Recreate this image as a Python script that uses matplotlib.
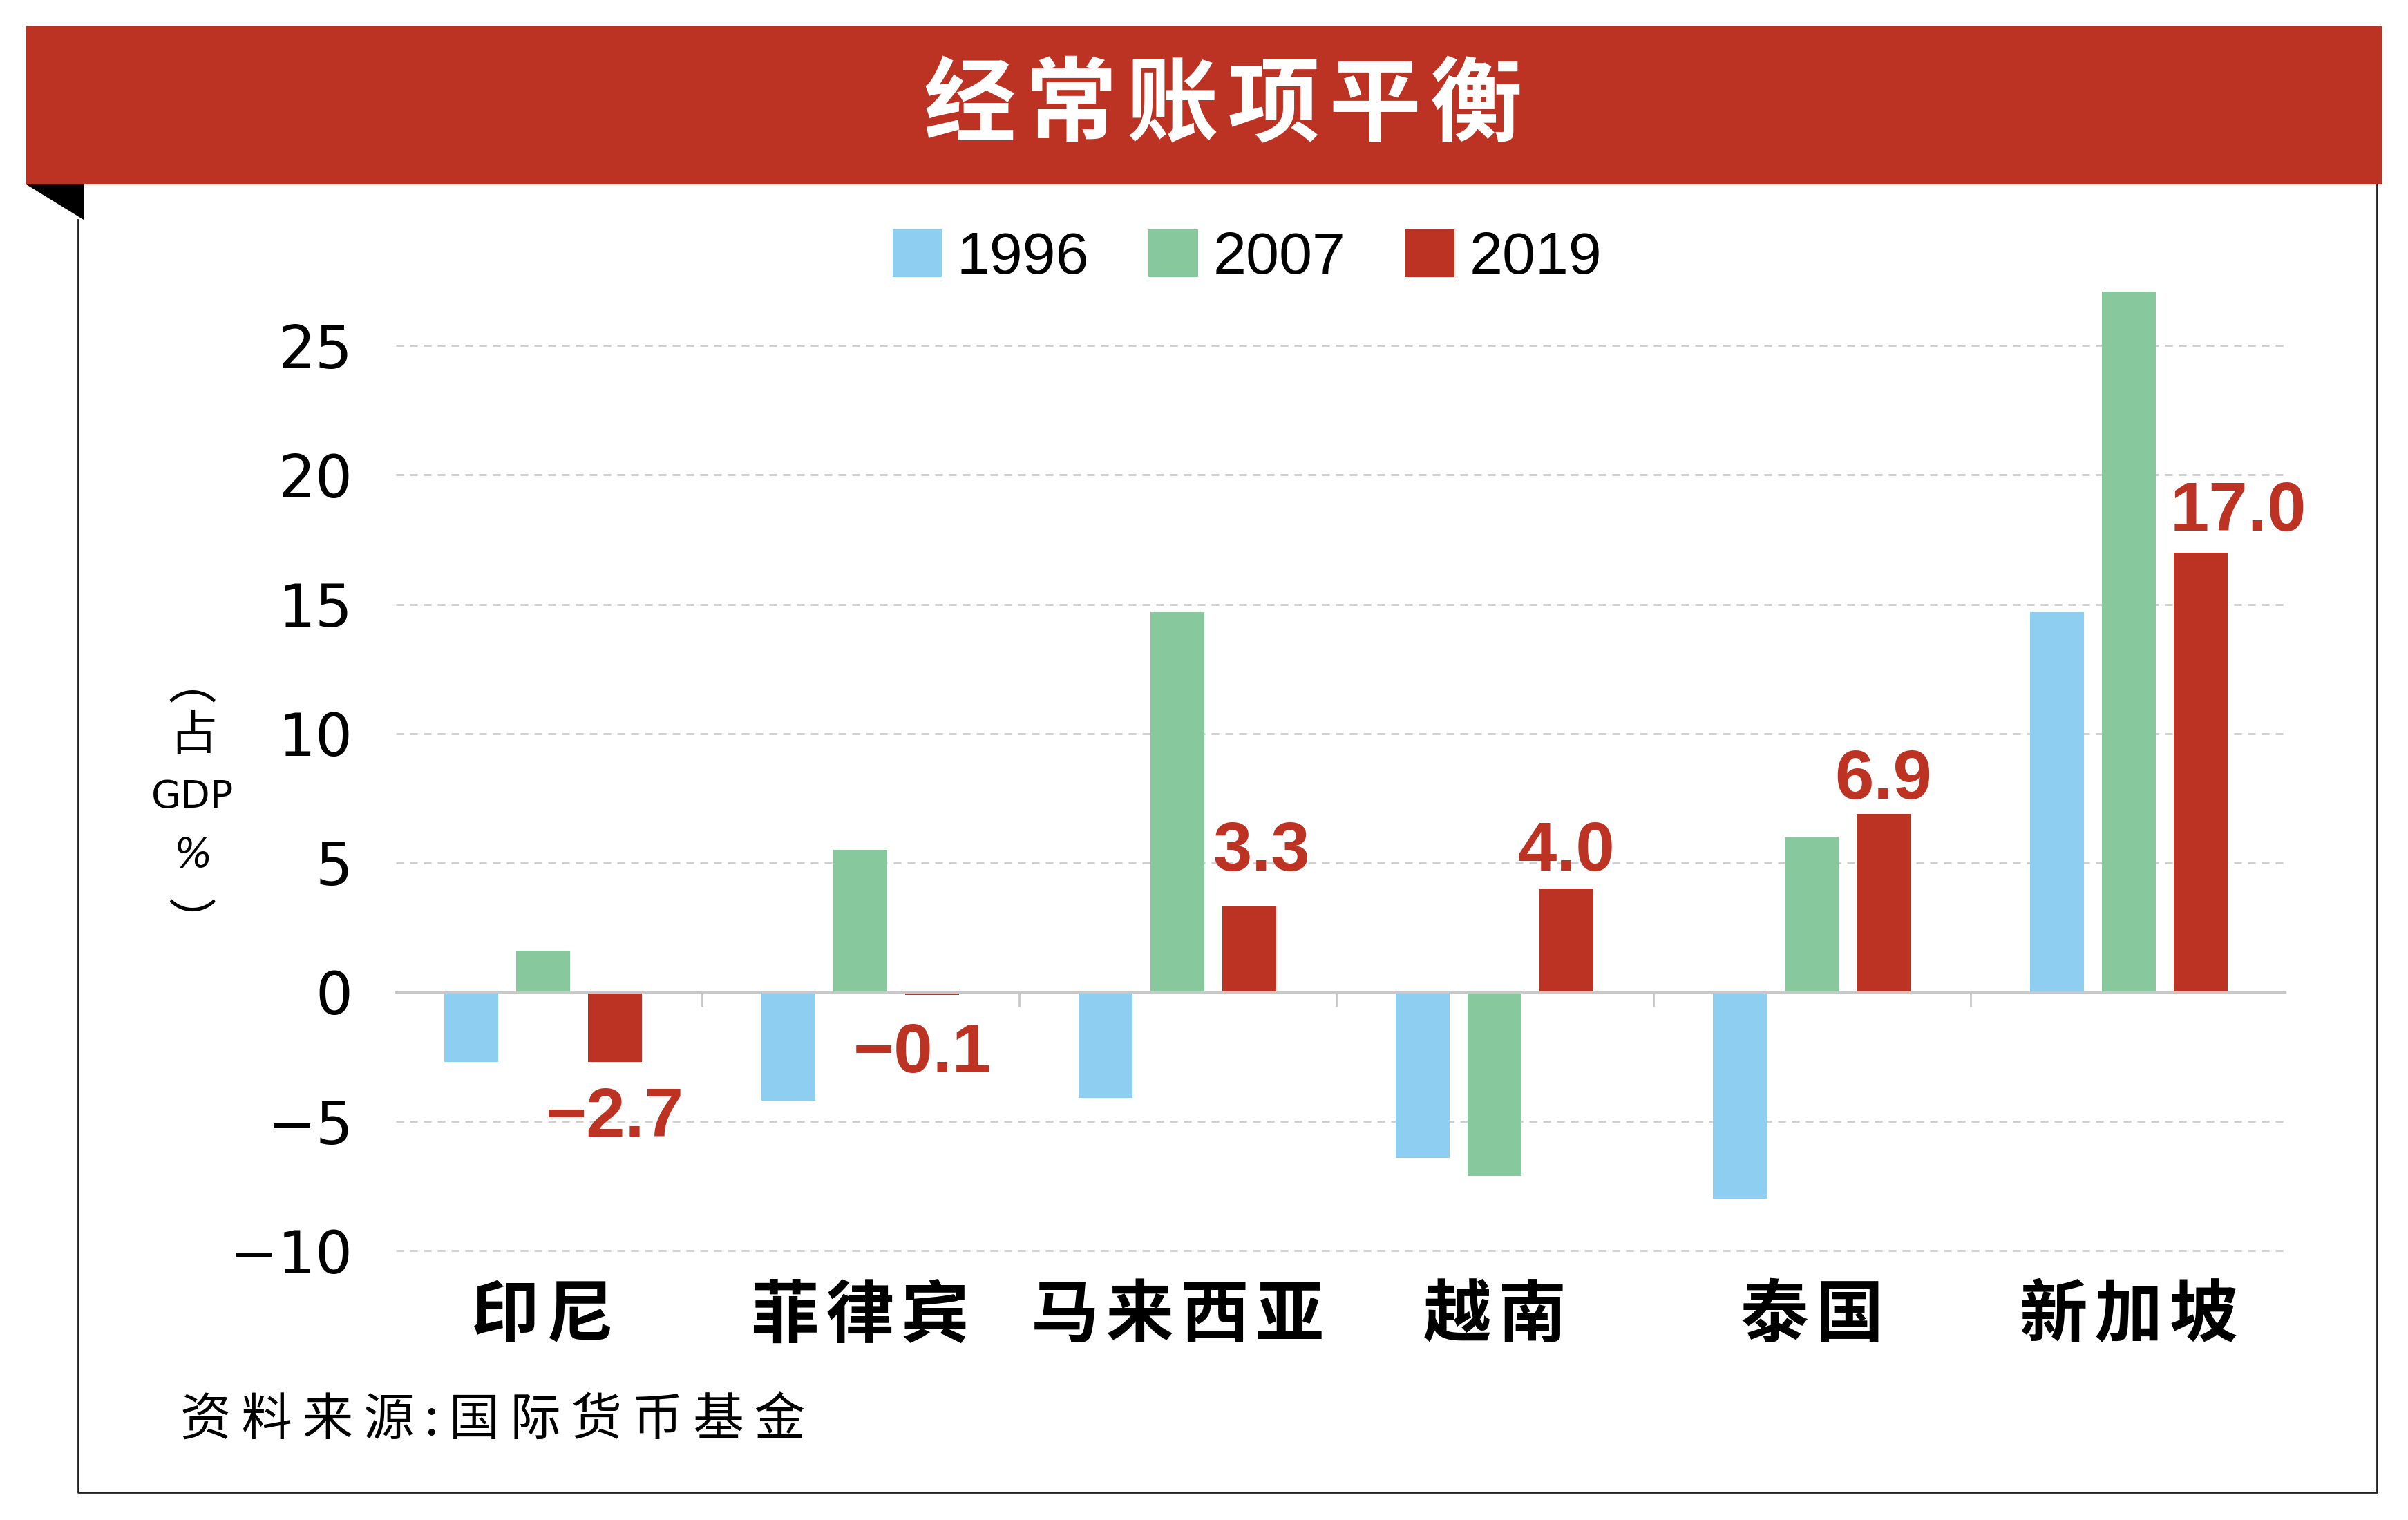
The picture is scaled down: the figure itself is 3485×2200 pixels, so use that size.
import matplotlib
matplotlib.use("Agg")
import matplotlib.pyplot as plt
from matplotlib import font_manager
from matplotlib.patches import Rectangle, Polygon
from matplotlib.lines import Line2D
import numpy as np

# current account balance, % of GDP
countries = ["印尼", "菲律宾", "马来西亚", "越南", "泰国", "新加坡"]
years = ["1996", "2007", "2019"]
ca_1996 = [-2.7, -4.2, -4.1, -6.4, -8.0, 14.7]
ca_2007 = [1.6, 5.5, 14.7, -7.1, 6.0, 27.1]
ca_2019 = [-2.7, -0.1, 3.3, 4.0, 6.9, 17.0]
y_ticks = [-10, -5, 0, 5, 10, 15, 20, 25]

title = "经常账项平衡"
source = "资料来源:国际货币基金"

colors = ["#8ECEF0", "#87C99C", "#BC3324"]
RED = "#BC3324"
CJK = ["Noto Sans CJK SC", "DejaVu Sans"]

names = {f.name for f in font_manager.fontManager.ttflist}
narrow = "Liberation Sans Narrow" if "Liberation Sans Narrow" in names else "DejaVu Sans"

W, H = 3485, 2200
fig = plt.figure(figsize=(W / 100, H / 100), dpi=100)


def fx(px):
    return px / W


def fy(py):
    return 1 - py / H


# red header banner + black fold + thin frame
fig.add_artist(Rectangle((fx(38), fy(267)), fx(3447) - fx(38), fy(38) - fy(267),
                         transform=fig.transFigure, facecolor=RED, edgecolor="none", zorder=0))
fig.add_artist(Polygon([[fx(38), fy(267)], [fx(121), fy(267)], [fx(121), fy(318)]],
                       closed=True, transform=fig.transFigure, facecolor="black", edgecolor="none"))
fig.add_artist(Line2D([fx(113), fx(113), fx(3440), fx(3440)], [fy(318), fy(2160), fy(2160), fy(267)],
                      transform=fig.transFigure, color="#222222", lw=2))

# a little letter spacing, like the original typesetting
fig.text(fx(1770), fy(155), "\u200a".join(title), color="white", fontsize=96, fontweight="bold",
         family=CJK, ha="center", va="center")

# plot area
ax = fig.add_axes([fx(573), (H - 1866.4) / H, (3307 - 573) / W, 0.6805])
x = np.arange(len(countries))
pitch = 0.2266
width = 0.17
for i, (vals, c, lab) in enumerate(zip([ca_1996, ca_2007, ca_2019], colors, years)):
    ax.bar(x + (i - 1) * pitch, vals, width, color=c, label=lab, zorder=2)

ax.set_xlim(-0.464, 5.492)
ax.set_ylim(-11.5, 28.5)

for t in y_ticks:
    if t != 0:
        ax.axhline(t, color="#CCCCCC", lw=2, ls=(0, (4, 3.2)), zorder=0)

ax.set_yticks(y_ticks)
ax.set_yticklabels([str(t).replace("-", "\u2212") for t in y_ticks], family="DejaVu Sans")
ax.tick_params(axis="y", length=0, pad=45, labelsize=61)

for s in ["left", "right", "top"]:
    ax.spines[s].set_visible(False)
ax.spines["bottom"].set_position(("data", 0))
ax.spines["bottom"].set_color("#C8C8C8")
ax.spines["bottom"].set_linewidth(2.4)
ax.set_xticks([])
ax.set_xticks(x[:-1] + 0.5, minor=True)
ax.tick_params(axis="x", which="minor", length=15, width=2, color="#C8C8C8", direction="out")

# country names under the plot
for xi, name in zip(x, countries):
    ax.text(xi, -0.0258, "\u200a".join(name), transform=ax.get_xaxis_transform(), ha="center",
            va="center", fontsize=71, fontweight="bold", family=CJK)

# 2019 value labels
label_dx = [0, -0.03, 0.04, 0, 0, 0.118]
label_dy = [-2.88, -3.0, 1.40, 0.70, 0.58, 0.85]
for xi, v, dx, dy in zip(x, ca_2019, label_dx, label_dy):
    ax.text(xi + pitch + dx, v + dy, f"{v:.1f}".replace("-", "\u2212"), ha="center", va="baseline",
            color=RED, fontsize=73, fontweight="bold", family="Liberation Sans")

# legend
fig.legend(loc="center", bbox_to_anchor=(fx(1805), fy(373)), ncol=3, frameon=False,
           prop={"family": "Liberation Sans", "size": 62}, handlelength=0.83, handleheight=0.87,
           handletextpad=0.25, columnspacing=1.0)

# vertical y-axis unit label: ︵占GDP%︶ stacked (vertical-form parentheses)
fig.text(fx(278), fy(991), "\ufe35", fontsize=50, family=CJK, ha="center", va="center")
fig.text(fx(280), fy(1065), "占", fontsize=50, family=CJK, ha="center", va="center")
fig.text(fx(279), fy(1154), "GDP", fontsize=40, family=narrow, ha="center", va="center")
fig.text(fx(279), fy(1239), "%", fontsize=42, family=narrow, ha="center", va="center", style="italic")
fig.text(fx(278), fy(1339), "\ufe36", fontsize=50, family=CJK, ha="center", va="center")

fig.text(fx(261), fy(2057), "\u2009".join(source), fontsize=53, family=CJK, ha="left", va="center")

fig.savefig("out.png", dpi=100)
